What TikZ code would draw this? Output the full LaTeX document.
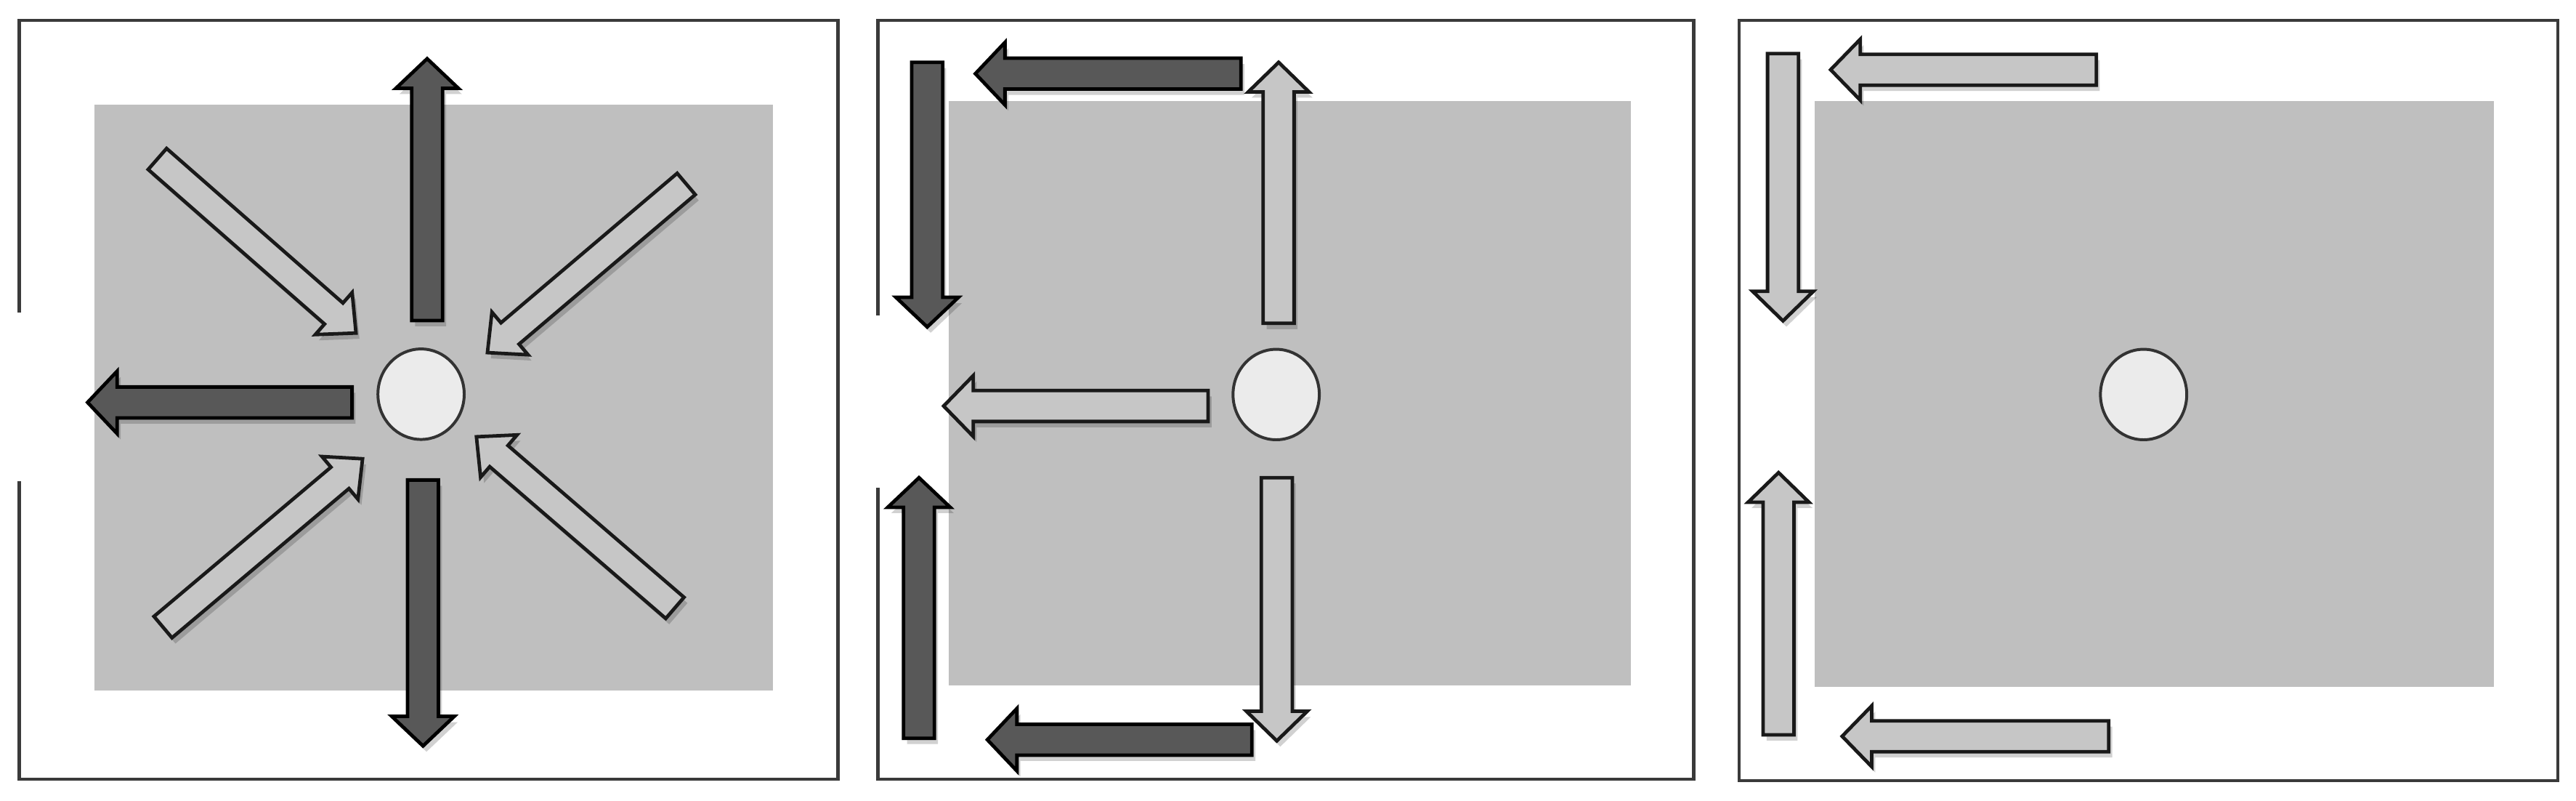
\documentclass[tikz,border=0pt]{standalone}
\usetikzlibrary{calc,shapes.geometric}
\definecolor{framecol}{HTML}{3A3A3A}
\definecolor{fieldcol}{HTML}{BFBFBF}
\definecolor{darkfill}{HTML}{585858}
\definecolor{lightfill}{HTML}{C6C6C6}
\definecolor{dotfill}{HTML}{EBEBEB}
\tikzset{
  frameline/.style={draw=framecol, line width=0.55pt},
  field/.style={fill=fieldcol, draw=none},
  darkarrow/.style={fill=darkfill, draw=black, line width=0.6pt, line join=miter},
  lightarrow/.style={fill=lightfill, draw=black!90, line width=0.6pt, line join=miter},
  arrowshadow/.style={fill=black, opacity=0.18, draw=none},
  dot/.style={ellipse, fill=dotfill, draw=black!80, line width=0.5pt, minimum width=0.525cm, minimum height=0.55cm, inner sep=0pt}
}
% #1 style, #2 tail, #3 tip, #4 name, #5 shaft half width, #6 head half width, #7 head length
\newcommand\blockarrow[7]{%
  \coordinate (#4-t) at #2;
  \coordinate (#4-p) at #3;
  \path ($(#4-p)!#7!(#4-t)$) coordinate (#4-h);
  \path ($(#4-t)!#5!90:(#4-p)$) coordinate (#4-a)
        ($(#4-h)!#5!90:(#4-p)$) coordinate (#4-b)
        ($(#4-h)!#6!90:(#4-p)$) coordinate (#4-c)
        ($(#4-h)!#6!-90:(#4-p)$) coordinate (#4-d)
        ($(#4-h)!#5!-90:(#4-p)$) coordinate (#4-e)
        ($(#4-t)!#5!-90:(#4-p)$) coordinate (#4-f);
  \fill[arrowshadow, transform canvas={shift={(0.6pt,-1pt)}}]
    (#4-a) -- (#4-b) -- (#4-c) -- (#4-p) -- (#4-d) -- (#4-e) -- (#4-f) -- cycle;
  \draw[#1] (#4-a) -- (#4-b) -- (#4-c) -- (#4-p) -- (#4-d) -- (#4-e) -- (#4-f) -- cycle;
}
\newcommand\darkA[3]{\blockarrow{darkarrow}{#1}{#2}{#3}{0.094cm}{0.19cm}{0.18cm}}
\newcommand\lightA[3]{\blockarrow{lightarrow}{#1}{#2}{#3}{0.094cm}{0.185cm}{0.18cm}}
\newcommand\lightD[3]{\blockarrow{lightarrow}{#1}{#2}{#3}{0.085cm}{0.17cm}{0.18cm}}
\begin{document}
\begin{tikzpicture}[x=0.01cm, y=-0.01cm]
\useasboundingbox (0,0) rectangle (1568,487);
\fill[white] (0,0) rectangle (1568,487);

% ---------- Panel 1 ----------
\fill[field] (57.5,63.7) rectangle (470.7,420.2);
\draw[frameline] (11.7,292.7) -- (11.7,474) -- (510,474) -- (510,12.4) -- (11.7,12.4) -- (11.7,190);
\node[dot] (c1) at (256.3,239.8) {};
\darkA{(260,195)}{(260,35.7)}{p1u}
\darkA{(214.3,244.8)}{(53.3,244.8)}{p1l}
\darkA{(257.5,292)}{(257.5,453.8)}{p1d}
\lightD{(95.8,96.7)}{(216.7,202.6)}{p1tl}
\lightD{(417.7,111.9)}{(296.7,214.5)}{p1tr}
\lightD{(99.2,381.5)}{(220.7,279.1)}{p1bl}
\lightD{(410.8,369.8)}{(290,265.7)}{p1br}

% ---------- Panel 2 ----------
\fill[field] (577.7,61.5) rectangle (992.7,417);
\draw[frameline] (534.4,296.8) -- (534.4,474) -- (1031,474) -- (1031,12.4) -- (534.4,12.4) -- (534.4,192);
\node[dot] (c2) at (776.8,240) {};
\darkA{(755.4,44.8)}{(593.7,44.8)}{p2t}
\darkA{(564.4,37.9)}{(564.4,198.9)}{p2ld}
\darkA{(559.4,449.1)}{(559.4,290.6)}{p2lu}
\darkA{(762,450)}{(601,450)}{p2b}
\lightA{(778.3,196.7)}{(778.3,37.9)}{p2u}
\lightA{(735.4,247)}{(574.4,247)}{p2l}
\lightA{(777.2,290.6)}{(777.2,450.7)}{p2d}

% ---------- Panel 3 ----------
\fill[field] (1104.6,61.5) rectangle (1518,418);
\draw[frameline] (1058.6,12.4) rectangle (1557,475);
\node[dot] (c3) at (1304.8,240) {};
\lightA{(1276,42.4)}{(1114.3,42.4)}{p3t}
\lightA{(1085.3,32.6)}{(1085.3,195.2)}{p3ld}
\lightA{(1082.6,447)}{(1082.6,287.5)}{p3lu}
\lightA{(1283.6,447.9)}{(1121.3,447.9)}{p3b}
\end{tikzpicture}
\end{document}
